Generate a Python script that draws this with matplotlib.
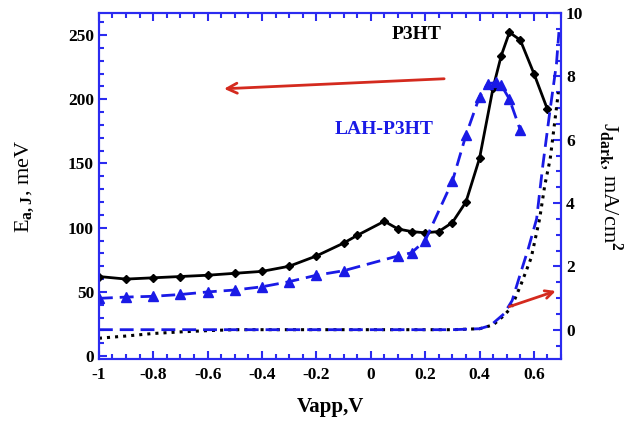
import numpy as np
from matplotlib import pyplot as plt
from matplotlib.ticker import MultipleLocator

# E_a,J vs Vapp (left axis)
v_p3ht = [-1, -0.9, -0.8, -0.7, -0.6, -0.5, -0.4, -0.3, -0.2, -0.1, -0.05, 0.05,
          0.1, 0.15, 0.2, 0.25, 0.3, 0.35, 0.4, 0.45, 0.48, 0.51, 0.55, 0.6, 0.65]
e_p3ht = [62, 60, 61, 62, 63, 64.5, 66, 70, 78, 88, 94, 105,
          99, 97, 96, 97, 104, 120, 154, 209, 234, 252, 246, 220, 192]

v_lah = [-1, -0.9, -0.8, -0.7, -0.6, -0.5, -0.4, -0.3, -0.2, -0.1, 0.1, 0.15,
         0.2, 0.3, 0.35, 0.4, 0.43, 0.46, 0.48, 0.51, 0.55]
e_lah = [45, 46, 46.6, 48, 50, 51.5, 54, 58, 63, 66.5, 78, 80.5,
         90, 136, 172, 202, 212, 213, 211, 200, 176]

# dark current (right axis)
v_j_lah = [-1, -0.5, 0, 0.3, 0.4, 0.44, 0.49, 0.52, 0.55, 0.58, 0.61, 0.62,
           0.633, 0.658, 0.683, 0.692]
j_lah = [0, 0, 0, 0, 0.03, 0.13, 0.5, 0.92, 1.76, 2.58, 3.5, 4.25,
         5.2, 6.85, 8.4, 9.4]

v_j_p3ht = [-1, -0.9, -0.8, -0.7, -0.6, -0.5, 0, 0.3, 0.4, 0.45, 0.49, 0.517,
            0.553, 0.59, 0.621, 0.64, 0.66, 0.69]
j_p3ht = [-0.27, -0.2, -0.12, -0.07, -0.03, 0, 0, 0, 0.03, 0.15, 0.45, 0.7,
          1.44, 2.27, 3.5, 4.56, 5.4, 7.5]

blue = '#2b2bf0'
line_blue = '#1a1ae6'

plt.rcParams['font.family'] = ['Liberation Serif', 'DejaVu Serif']
plt.rcParams['font.weight'] = 'bold'
plt.rcParams['mathtext.fontset'] = 'custom'
plt.rcParams['mathtext.rm'] = 'Liberation Serif:bold'
plt.rcParams['mathtext.bf'] = 'Liberation Serif:bold'

fig = plt.figure(figsize=(6.34, 4.23), dpi=100)
ax = fig.add_axes([0.156, 0.151, 0.729, 0.818])
ax2 = ax.twinx()

ax.plot(v_p3ht, e_p3ht, '-', color='black', lw=2, marker='D', ms=4.5)
ax.plot(v_lah, e_lah, '--', color=line_blue, lw=2, marker='^', ms=7,
        dashes=(5, 2.5))

ax2.plot(v_j_p3ht, j_p3ht, ':', color='black', lw=2.2)
ax2.plot(v_j_lah, j_lah, '--', color=line_blue, lw=2, dashes=(5, 2.5))

ax.set_xlim(-1, 0.7)
ax.set_ylim(-2.3, 267)
ax2.set_ylim(-0.93, 10.0)

ax.xaxis.set_minor_locator(MultipleLocator(0.05))
ax.yaxis.set_major_locator(MultipleLocator(50))
ax.yaxis.set_minor_locator(MultipleLocator(10))
ax2.yaxis.set_major_locator(MultipleLocator(2))
ax2.yaxis.set_minor_locator(MultipleLocator(0.5))

ax.set_xticks([-1, -0.8, -0.6, -0.4, -0.2, 0, 0.2, 0.4, 0.6])
ax.set_xticklabels(['-1', '-0.8', '-0.6', '-0.4', '-0.2', '0', '0.2', '0.4', '0.6'])

for a in (ax, ax2):
    for s in a.spines.values():
        s.set_color(blue)
        s.set_linewidth(1.5)
    a.tick_params(which='both', direction='in', color=blue, labelsize=12.5, width=1.5)
    a.tick_params(which='major', length=6)
    a.tick_params(which='minor', length=3.5)
ax.tick_params(which='both', top=True)
ax.tick_params(axis='x', pad=6)

ax.set_xlabel('Vapp,V', fontsize=15, fontweight='bold', labelpad=10)
ax.set_ylabel(r'E$_{\mathbf{a,J}}$, meV', fontsize=16, labelpad=22)
ax2.set_ylabel(r'J$_{\mathbf{dark}}$, mA/cm$^{\mathbf{2}}$', fontsize=16,
               rotation=270, labelpad=30)

ax.text(0.17, 247, 'P3HT', fontsize=14, fontweight='bold', color='black', ha='center')
ax.text(0.05, 173, 'LAH-P3HT', fontsize=14, fontweight='bold', color=line_blue, ha='center')

ax.annotate('', xy=(-0.55, 208), xytext=(0.28, 216),
            arrowprops=dict(arrowstyle='->', color='#d42a1e', lw=2, mutation_scale=18))
ax2.annotate('', xy=(0.69, 1.25), xytext=(0.5, 0.7),
             arrowprops=dict(arrowstyle='->', color='#d42a1e', lw=2, mutation_scale=14))

fig.savefig('out.png', dpi=100)
